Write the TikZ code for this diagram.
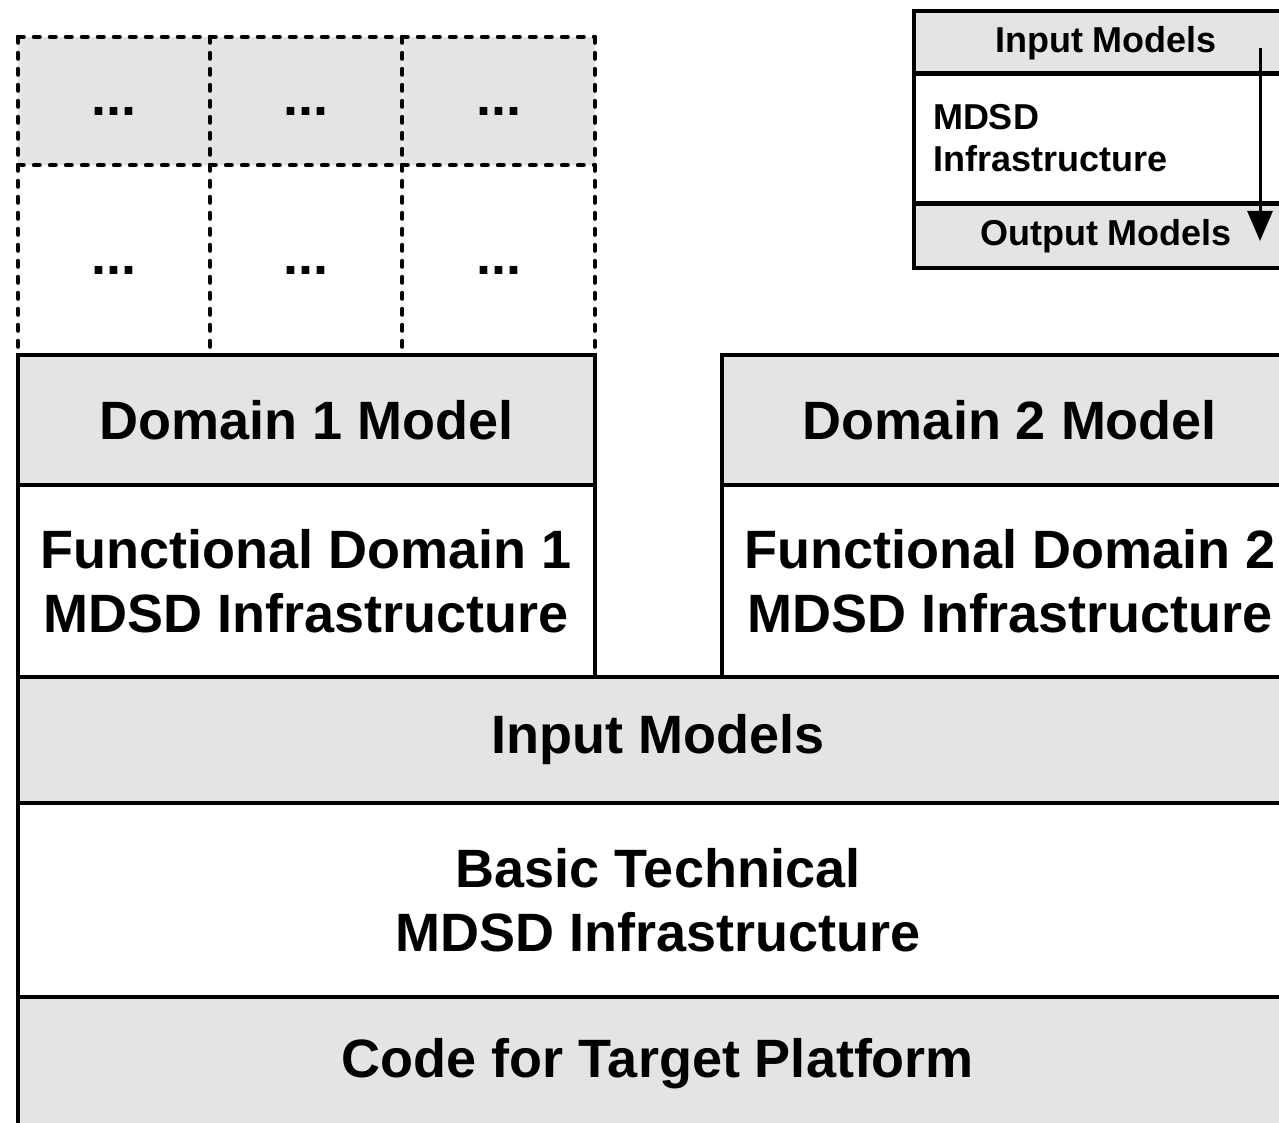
\documentclass[tikz,border=0pt]{standalone}
\usepackage{fontspec}
\setmainfont{Liberation Sans}
\usetikzlibrary{arrows.meta}
\definecolor{boxgray}{HTML}{E4E4E4}
\begin{document}
\begin{tikzpicture}[x=1pt,y=-1pt,
  layer/.style={draw, line width=4pt, inner sep=0pt, align=center,
    font=\fontsize{54}{64}\selectfont\bfseries},
  graylayer/.style={layer, fill=boxgray},
  cell/.style={inner sep=0pt, minimum width=192, text height=40pt, text depth=11pt,
    font=\fontsize{54}{64}\selectfont\bfseries},
  gridline/.style={line width=4pt, dash pattern=on 6pt off 10pt, line cap=round},
  legend/.style={draw, line width=4pt, inner sep=0pt, minimum width=384,
    font=\fontsize{36}{42}\selectfont\bfseries},
  flow/.style={line width=3pt, -{Triangle[length=30pt,width=25pt]}}]
\useasboundingbox (0,0) rectangle (1279,1123);
\clip (0,0) rectangle (1279,1123);
% stack
\node[graylayer, minimum width=1280, minimum height=126] (inp) at (658,740) {Input Models};
\node[layer, minimum width=1280, minimum height=194] (basic) at (658,900) {Basic Technical\\MDSD Infrastructure};
\node[graylayer, minimum width=1280, minimum height=134] (code) at (658,1064) {Code for Target Platform};
\node[layer, minimum width=577, minimum height=192] (fd1) at (306.5,581) {Functional Domain 1\\MDSD Infrastructure};
\node[graylayer, minimum width=577, minimum height=130] (d1m) at (306.5,420) {Domain 1 Model};
\node[layer, minimum width=576, minimum height=192] (fd2) at (1010,581) {Functional Domain 2\\MDSD Infrastructure};
\node[graylayer, minimum width=576, minimum height=130] (d2m) at (1010,420) {Domain 2 Model};
% dashed grid
\node[cell, fill=boxgray, minimum height=128] (g11) at (114,101) {...};
\node[cell, fill=boxgray, minimum height=128] (g12) at (306,101) {...};
\node[cell, fill=boxgray, minimum height=128] (g13) at (498.5,101) {...};
\node[cell, minimum height=190] (g21) at (114,260) {...};
\node[cell, minimum height=190] (g22) at (306,260) {...};
\node[cell, minimum height=190] (g23) at (498.5,260) {...};
\draw[gridline] (g11.north west) -- (g13.north east);
\draw[gridline] (g11.south west) -- (g13.south east);
\draw[gridline] (g21.south west) -- (g23.south east);
\draw[gridline] (g11.north west) -- (g21.south west);
\draw[gridline] (g12.north west) -- (g22.south west);
\draw[gridline] (g13.north west) -- (g23.south west);
\draw[gridline] (g13.north east) -- (g23.south east);
% legend
\node[legend, fill=boxgray, minimum height=63] (lin) at (1106,43) {Input Models};
\node[legend, minimum height=130, text width=346, inner xsep=19pt, align=left,
  font=\fontsize{36}{42}\selectfont\bfseries] (lmid) at (1106,138) {MDSD\\Infrastructure};
\node[legend, fill=boxgray, minimum height=64] (lout) at (1106,236) {Output Models};
\coordinate (a1) at (1260,48);
\coordinate (a2) at (1260,241);
\draw[flow] (a1) -- (a2);
\end{tikzpicture}
\end{document}
